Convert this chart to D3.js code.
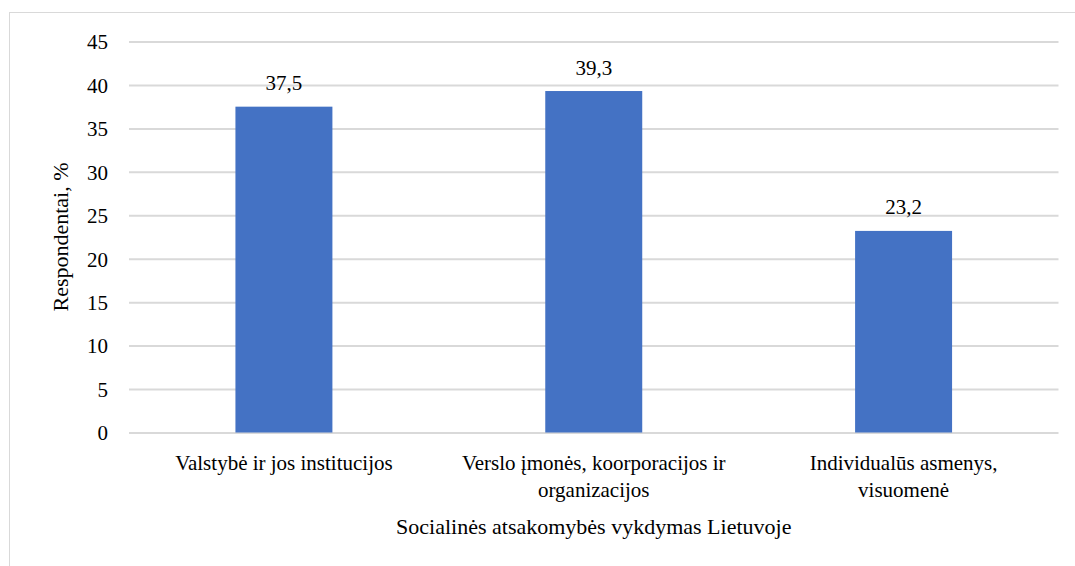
<!DOCTYPE html>
<html><head><meta charset="utf-8">
<script src="https://cdn.jsdelivr.net/npm/d3@7"></script>
<style>body{margin:0;background:#fff}svg{display:block}svg text{font-family:"Liberation Serif" !important}</style>
</head><body>
<svg id="chart" width="1075" height="566" font-family="Liberation Serif"></svg>
<script>
const categories = [["Valstybė ir jos institucijos"],["Verslo įmonės, koorporacijos ir","organizacijos"],["Individualūs asmenys,","visuomenė"]];
const values = [37.5, 39.3, 23.2];
const valueLabels = ["37,5","39,3","23,2"];
const yTicks = [0,5,10,15,20,25,30,35,40,45];
const yTitle = "Respondentai, %";
const xTitle = "Socialinės atsakomybės vykdymas Lietuvoje";

(function(){
const W=1075,H=566;
const svg=d3.select("#chart");
svg.append("rect").attr("x",9.5).attr("y",12.5).attr("width",W).attr("height",H).attr("fill","#fff").attr("stroke","#d9d9d9").attr("stroke-width",1);

const pl=129,pr=1058.5,pt=41.5,pb=432.5;
const x=d3.scaleBand().domain(d3.range(categories.length)).range([pl,pr]).padding(0);
const y=d3.scaleLinear().domain([0,45]).range([pb,pt]);

const yAxis=d3.axisLeft(y).tickValues(yTicks).tickSize(-(pr-pl)).tickPadding(21).tickFormat(d3.format("d"));
const gy=svg.append("g").attr("transform",`translate(${pl},0)`).call(yAxis);
gy.attr("font-family","Liberation Serif").attr("font-size",21);
gy.select(".domain").remove();
gy.selectAll(".tick line").attr("stroke","#d9d9d9").attr("stroke-width",2);
gy.selectAll(".tick text").attr("fill","#000").attr("dy","0.35em");

const bw=x.bandwidth()*0.313;
svg.selectAll("rect.bar").data(values).join("rect").attr("class","bar")
 .attr("x",(d,i)=>x(i)+x.bandwidth()/2-bw/2).attr("width",bw)
 .attr("y",d=>y(d)).attr("height",d=>y(0)-y(d)).attr("fill","#4472c4");

svg.selectAll("text.vl").data(values).join("text").attr("class","vl")
 .attr("x",(d,i)=>x(i)+x.bandwidth()/2).attr("y",d=>y(d)-16.5)
 .attr("text-anchor","middle").attr("font-family","Liberation Serif").attr("font-size",21).text((d,i)=>valueLabels[i]);

categories.forEach((lines,i)=>{
  const t=svg.append("text").attr("x",x(i)+x.bandwidth()/2).attr("y",470).attr("text-anchor","middle").attr("font-family","Liberation Serif").attr("font-size",21);
  lines.forEach((l,j)=>t.append("tspan").attr("x",x(i)+x.bandwidth()/2).attr("dy",j?27:0).text(l));
});

svg.append("text").attr("x",(pl+pr)/2).attr("y",534).attr("text-anchor","middle").attr("font-family","Liberation Serif").attr("font-size",22).text(xTitle);
svg.append("text").attr("transform",`translate(68,${(pt+pb)/2}) rotate(-90)`).attr("text-anchor","middle").attr("font-family","Liberation Serif").attr("font-size",22).text(yTitle);
})();
</script></body></html>
